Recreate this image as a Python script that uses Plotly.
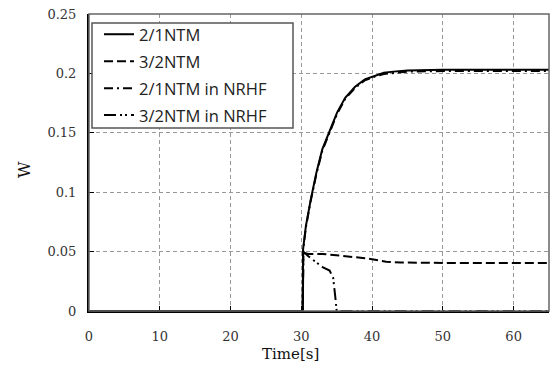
import plotly.graph_objects as go

# Data
t_21 = [0, 30.2, 30.25, 30.65, 31.34, 32.13, 32.96, 33.89, 35.05, 36.2, 37.6, 38.98, 40.37, 41.67, 43, 45, 50, 55, 60, 65]
w_21 = [0, 0, 0.052, 0.0716, 0.094, 0.1164, 0.136, 0.150, 0.167, 0.1795, 0.1888, 0.195, 0.198, 0.2005, 0.2015, 0.2025, 0.203, 0.203, 0.203, 0.203]

t_32 = [0, 30.2, 30.3, 31, 33, 35, 37, 39, 40, 42, 44, 46, 50, 55, 60, 65]
w_32 = [0, 0, 0.049, 0.048, 0.048, 0.047, 0.046, 0.0445, 0.0435, 0.0415, 0.0408, 0.0405, 0.0405, 0.0405, 0.0405, 0.0405]

t_21n = [0, 30.2, 30.25, 30.65, 31.34, 32.13, 32.96, 33.89, 35.05, 36.2, 37.6, 38.98, 40.37, 41.67, 43, 45, 50, 55, 60, 65]
w_21n = [0, 0, 0.051, 0.0705, 0.093, 0.1152, 0.1348, 0.1488, 0.1658, 0.1785, 0.1878, 0.1942, 0.1973, 0.1995, 0.2005, 0.2015, 0.202, 0.202, 0.202, 0.202]

t_32n = [0, 30.2, 30.3, 31, 32, 33, 34, 34.5, 34.8, 35, 65]
w_32n = [0, 0, 0.050, 0.046, 0.0415, 0.037, 0.034, 0.028, 0.012, 0, 0]

names = ["2/1NTM", "3/2NTM", "2/1NTM in NRHF", "3/2NTM in NRHF"]
x_ticks = [0, 10, 20, 30, 40, 50, 60]
y_ticks = [0, 0.05, 0.1, 0.15, 0.2, 0.25]

series = [(t_21, w_21, "solid"), (t_32, w_32, "9px,4px"),
          (t_21n, w_21n, "9px,4px,2px,4px"), (t_32n, w_32n, "12px,4px,2px,3px,2px,4px")]

fig = go.Figure()
for (tx, wy, dash), nm in zip(series, names):
    fig.add_trace(go.Scatter(x=tx, y=wy, mode="lines", name=nm, legendgroup=nm,
                             line=dict(color="black", width=2, dash=dash)))

W_PX, H_PX = 551, 374
ML, MR, MT, MB = 89, 2, 14, 63
pw, ph = W_PX - ML - MR, H_PX - MT - MB


def px_x(p):
    return (p - ML) / pw


def px_y(p):
    return (H_PX - MB - p) / ph


serif = "DejaVu Serif"
fig.update_layout(
    width=W_PX, height=H_PX,
    margin=dict(l=ML, r=MR, t=MT, b=MB, autoexpand=False),
    paper_bgcolor="white", plot_bgcolor="white",
    showlegend=True,
    legend=dict(x=px_x(99), y=px_y(17), xanchor="left", yanchor="top",
                bgcolor="rgba(0,0,0,0)", borderwidth=0,
                font=dict(family="Open Sans", size=16.5, color="#222"),
                tracegroupgap=2.5),
    shapes=[dict(type="rect", xref="paper", yref="paper", x0=0, x1=1, y0=0, y1=1,
                 line=dict(color="#666", width=1.5), layer="above"),
            dict(type="rect", xref="paper", yref="paper", x0=px_x(92), x1=px_x(293),
                 y0=px_y(128), y1=px_y(23), fillcolor="white",
                 line=dict(color="#555", width=1.5), layer="above")],
    annotations=[
        dict(text="Time[s]", xref="paper", yref="paper", x=px_x(290), y=px_y(354),
             xanchor="center", yanchor="middle",
             showarrow=False, font=dict(family=serif, size=15, color="#111")),
        dict(text="W", xref="paper", yref="paper", x=px_x(24), y=px_y(170), textangle=-90,
             xanchor="center", yanchor="middle",
             showarrow=False, font=dict(family=serif, size=16, color="#111")),
    ],
)
fig.update_xaxes(range=[0, 65], tickvals=x_ticks, ticks="inside", ticklen=5, tickcolor="black",
                 showline=True, linecolor="black", linewidth=2, mirror=False,
                 showgrid=True, gridcolor="#999", griddash="4px,3px", gridwidth=1,
                 zeroline=False, ticklabelstandoff=12, automargin=False,
                 tickfont=dict(family=serif, size=13, color="#333"))
fig.update_yaxes(range=[0, 0.25], tickvals=y_ticks, ticks="inside", ticklen=5, tickcolor="black",
                 showline=True, linecolor="black", linewidth=2, mirror=False,
                 showgrid=True, gridcolor="#999", griddash="4px,3px", gridwidth=1,
                 zeroline=False, ticklabelstandoff=8, automargin=False,
                 tickfont=dict(family=serif, size=13, color="#333"))

fig.write_html("out.html", config={"displayModeBar": False},
               post_script="document.body.style.margin='0';document.body.style.overflow='hidden';")
